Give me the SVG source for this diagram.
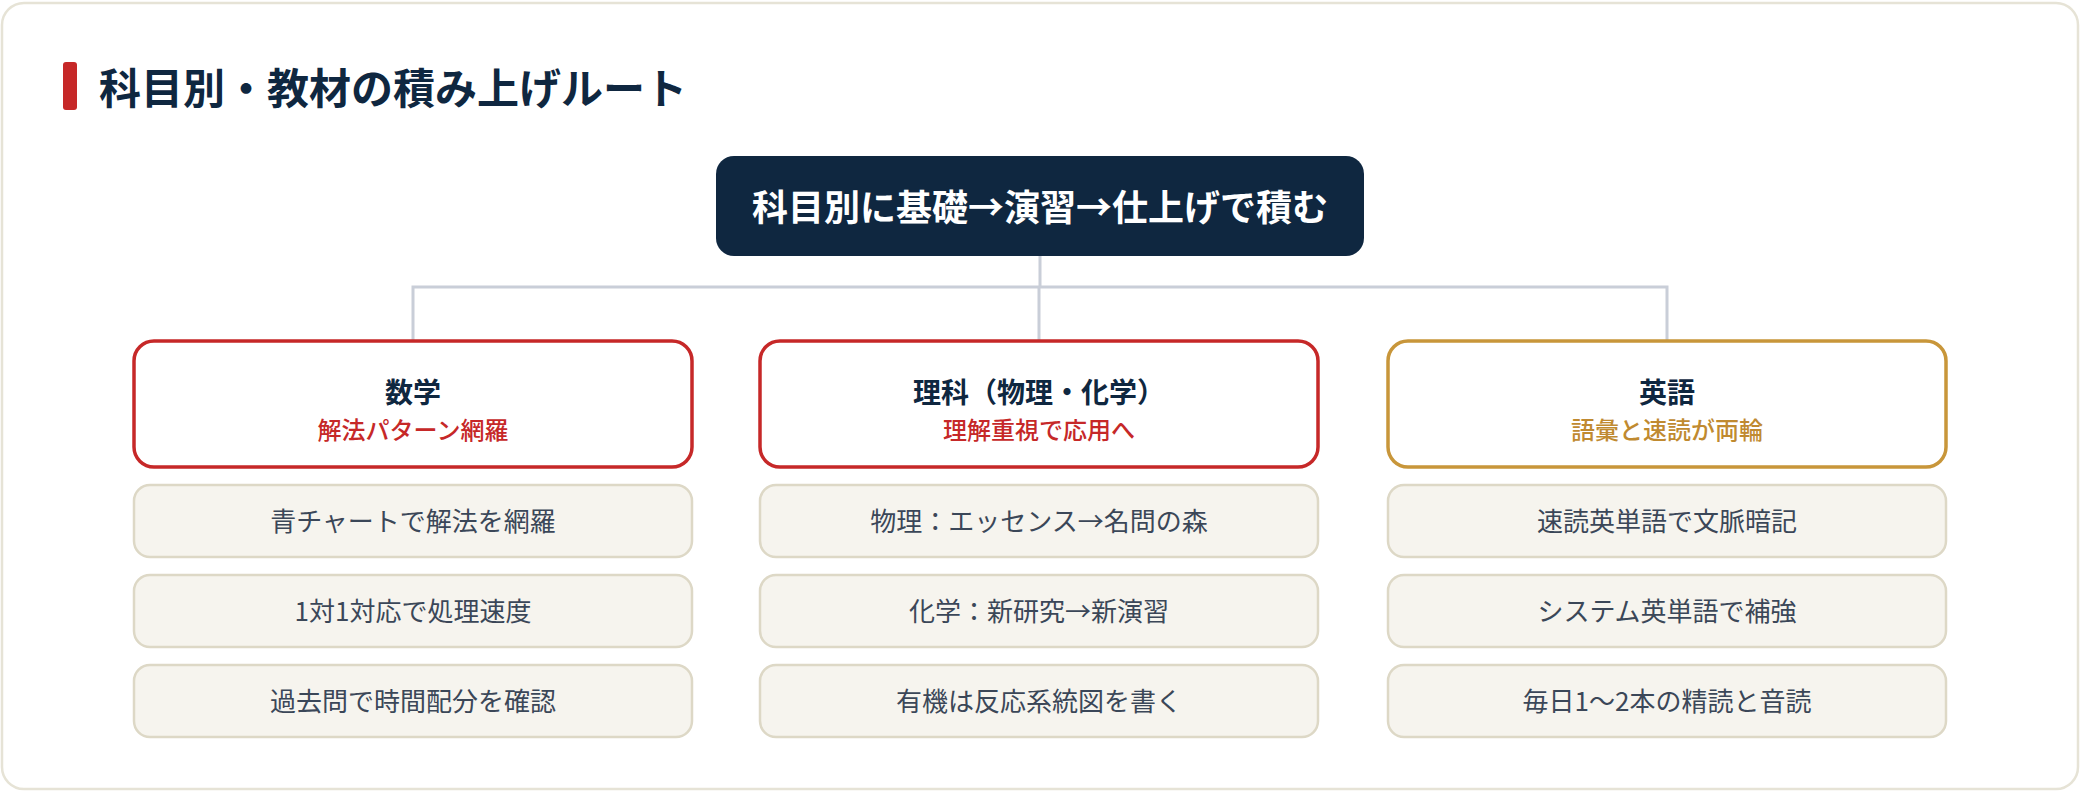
<svg xmlns="http://www.w3.org/2000/svg" width="2080" height="792" viewBox="0 0 2080 792">
<style>
text{font-family:"Noto Sans CJK JP","Noto Sans",sans-serif;text-anchor:middle}
.ttl{font-size:42px;font-weight:700;fill:#0f2740;text-anchor:start}
.root{font-size:36px;font-weight:700;fill:#ffffff}
.head{fill:#ffffff;stroke-width:3.5}
.red{stroke:#c62828}
.gold{stroke:#c8963a}
.hname{font-size:28px;font-weight:700;fill:#0f2740}
.hsub{font-size:24px;font-weight:500}
.item{fill:#f6f4ee;stroke:#ddd8c6;stroke-width:2.5}
.itxt{font-size:26px;font-weight:400;fill:#3b4758}
.conn{fill:none;stroke:#c9ced8;stroke-width:3}
</style>
<rect x="2" y="3" width="2076" height="786" rx="22" fill="#ffffff" stroke="#e6e3d6" stroke-width="2.5"/>
<g id="title">
<rect x="63" y="62" width="14" height="48" rx="3" fill="#c62828"/>
<text class="ttl" x="99" y="104">科目別・教材の積み上げルート</text>
</g>
<g id="connectors">
<path class="conn" d="M1040 256 V287 M413 341 V287 H1667 V341 M1039 287 V341"/>
</g>
<g id="root">
<rect x="716" y="156" width="648" height="100" rx="18" fill="#0f2740"/>
<text class="root" x="1040" y="221">科目別に基礎→演習→仕上げで積む</text>
</g>
<g id="math">
<rect class="head red" x="134" y="341" width="558" height="126" rx="20"/>
<text class="hname" x="413" y="403">数学</text>
<text class="hsub" x="413" y="439" fill="#c62828">解法パターン網羅</text>
</g>
<g id="science">
<rect class="head red" x="760" y="341" width="558" height="126" rx="20"/>
<text class="hname" x="1039" y="403">理科（物理・化学）</text>
<text class="hsub" x="1039" y="439" fill="#c62828">理解重視で応用へ</text>
</g>
<g id="english">
<rect class="head gold" x="1388" y="341" width="558" height="126" rx="20"/>
<text class="hname" x="1667" y="403">英語</text>
<text class="hsub" x="1667" y="439" fill="#c08a30">語彙と速読が両輪</text>
</g>
<g id="math-1"><rect class="item" x="134" y="485" width="558" height="72" rx="16"/><text class="itxt" x="413" y="531">青チャートで解法を網羅</text></g>
<g id="math-2"><rect class="item" x="134" y="575" width="558" height="72" rx="16"/><text class="itxt" x="413" y="621">1対1対応で処理速度</text></g>
<g id="math-3"><rect class="item" x="134" y="665" width="558" height="72" rx="16"/><text class="itxt" x="413" y="711">過去問で時間配分を確認</text></g>
<g id="science-1"><rect class="item" x="760" y="485" width="558" height="72" rx="16"/><text class="itxt" x="1039" y="531">物理：エッセンス→名問の森</text></g>
<g id="science-2"><rect class="item" x="760" y="575" width="558" height="72" rx="16"/><text class="itxt" x="1039" y="621">化学：新研究→新演習</text></g>
<g id="science-3"><rect class="item" x="760" y="665" width="558" height="72" rx="16"/><text class="itxt" x="1039" y="711">有機は反応系統図を書く</text></g>
<g id="english-1"><rect class="item" x="1388" y="485" width="558" height="72" rx="16"/><text class="itxt" x="1667" y="531">速読英単語で文脈暗記</text></g>
<g id="english-2"><rect class="item" x="1388" y="575" width="558" height="72" rx="16"/><text class="itxt" x="1667" y="621">システム英単語で補強</text></g>
<g id="english-3"><rect class="item" x="1388" y="665" width="558" height="72" rx="16"/><text class="itxt" x="1667" y="711">毎日1〜2本の精読と音読</text></g>
</svg>
